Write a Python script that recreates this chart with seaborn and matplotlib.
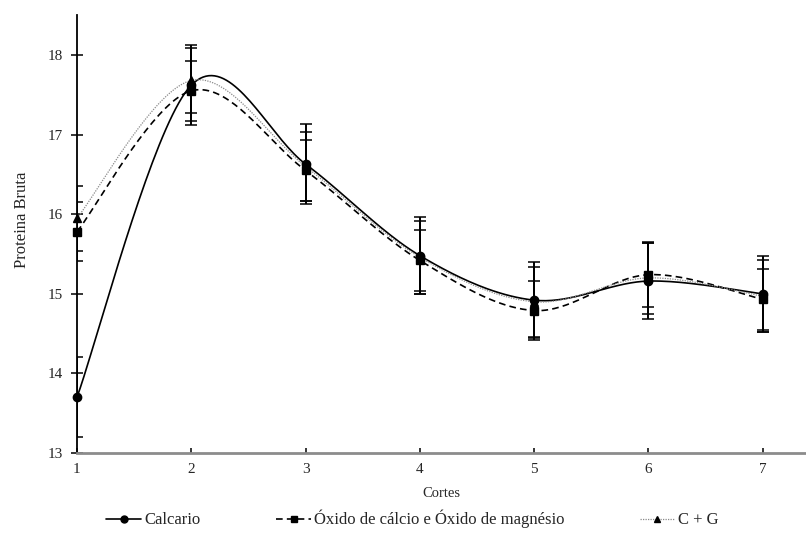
import numpy as np
import pandas as pd
import matplotlib
matplotlib.use("Agg")
import matplotlib.pyplot as plt
from matplotlib.lines import Line2D
import seaborn as sns

cortes = [1, 2, 3, 4, 5, 6, 7]
calcario = [13.70, 17.62, 16.63, 15.48, 14.92, 15.16, 15.00]
calcario_err = [0.50, 0.50, 0.50, 0.48, 0.48, 0.48, 0.48]
oxido = [15.78, 17.55, 16.55, 15.42, 14.79, 15.24, 14.93]
oxido_err = [0.37, 0.38, 0.38, 0.38, 0.37, 0.40, 0.38]
cg = [15.95, 17.68, 16.60, 15.46, 14.90, 15.20, 14.97]
cg_err = [0.41, 0.41, 0.43, 0.46, 0.44, 0.45, 0.45]

nomes = ["Calcario", "Óxido de cálcio e Óxido de magnésio", "C + G"]


def suavizar(x, y, n=40):
    # curva suavizada tipo Excel (Bezier / Catmull-Rom)
    p = np.column_stack([x, y]).astype(float)
    pts = []
    for i in range(len(p) - 1):
        p0 = p[i - 1] if i > 0 else p[i]
        p1, p2 = p[i], p[i + 1]
        p3 = p[i + 2] if i + 2 < len(p) else p[i + 1]
        b1 = p1 + (p2 - p0) / 6
        b2 = p2 - (p3 - p1) / 6
        t = np.linspace(0, 1, n)[:, None]
        seg = ((1 - t) ** 3) * p1 + 3 * ((1 - t) ** 2) * t * b1 + 3 * (1 - t) * t ** 2 * b2 + t ** 3 * p2
        pts.append(seg if i == 0 else seg[1:])
    return np.vstack(pts)


sns.set_theme(style="white")
plt.rcParams["font.family"] = ["Liberation Serif", "DejaVu Serif"]

fig = plt.figure(figsize=(8.06, 5.37), dpi=100)
ax = fig.add_axes([0.0955, 0.1564, 0.9045, 0.8153])

estilos = [
    dict(ls="-", color="black", lw=1.2, marker="o", ms=6),
    dict(ls=(0, (4, 2.5)), color="black", lw=1.2, marker="s", ms=6),
    dict(ls=(0, (1, 1)), color="#8a8a8a", lw=0.9, marker="^", ms=6),
]
series = [(calcario, calcario_err), (oxido, oxido_err), (cg, cg_err)]

handles = []
for nome, (vals, errs), st in zip(nomes, series, estilos):
    curva = suavizar(cortes, vals)
    df = pd.DataFrame({"x": curva[:, 0], "y": curva[:, 1]})
    sns.lineplot(data=df, x="x", y="y", sort=False, estimator=None, ax=ax,
                 color=st["color"], lw=st["lw"], linestyle=st["ls"])
    ax.errorbar(cortes, vals, yerr=errs, fmt="none", ecolor="black",
                elinewidth=1.4, capsize=4.5, capthick=1.1, zorder=3)
    ax.plot(cortes, vals, ls="none", marker=st["marker"], ms=st["ms"],
            color="black", zorder=4, clip_on=False)
    handles.append(Line2D([0], [0], color=st["color"], ls=st["ls"], lw=st["lw"],
                          marker=st["marker"], ms=5, mfc="black", mec="black"))

ax.set_xlim(1, 7.38)
ax.set_ylim(13, 18.5)
ax.set_xticks(cortes)
ax.set_yticks([13, 14, 15, 16, 17, 18])

for s in ["top", "right"]:
    ax.spines[s].set_visible(False)
ax.spines["left"].set_color("black")
ax.spines["left"].set_linewidth(1.3)
ax.spines["bottom"].set_color("#8c8c8c")
ax.spines["bottom"].set_linewidth(2.0)

ax.tick_params(axis="y", direction="inout", length=8, width=1.1, color="black",
               labelsize=11, pad=6, left=True)
ax.tick_params(axis="x", direction="in", length=3.5, width=1.1, color="black",
               labelsize=11, pad=7, bottom=True)

ax.set_xlabel("Cortes", fontsize=10.5, labelpad=8)
ax.set_ylabel("Proteina Bruta", fontsize=12)
ax.yaxis.set_label_coords(-0.065, 0.532)

fig.legend(handles, nomes, loc="lower center", bbox_to_anchor=(0.512, -0.012),
           ncol=3, frameon=False, fontsize=12, handlelength=2.1,
           handletextpad=0.2, columnspacing=4.5)

fig.savefig("out.png", dpi=100)
